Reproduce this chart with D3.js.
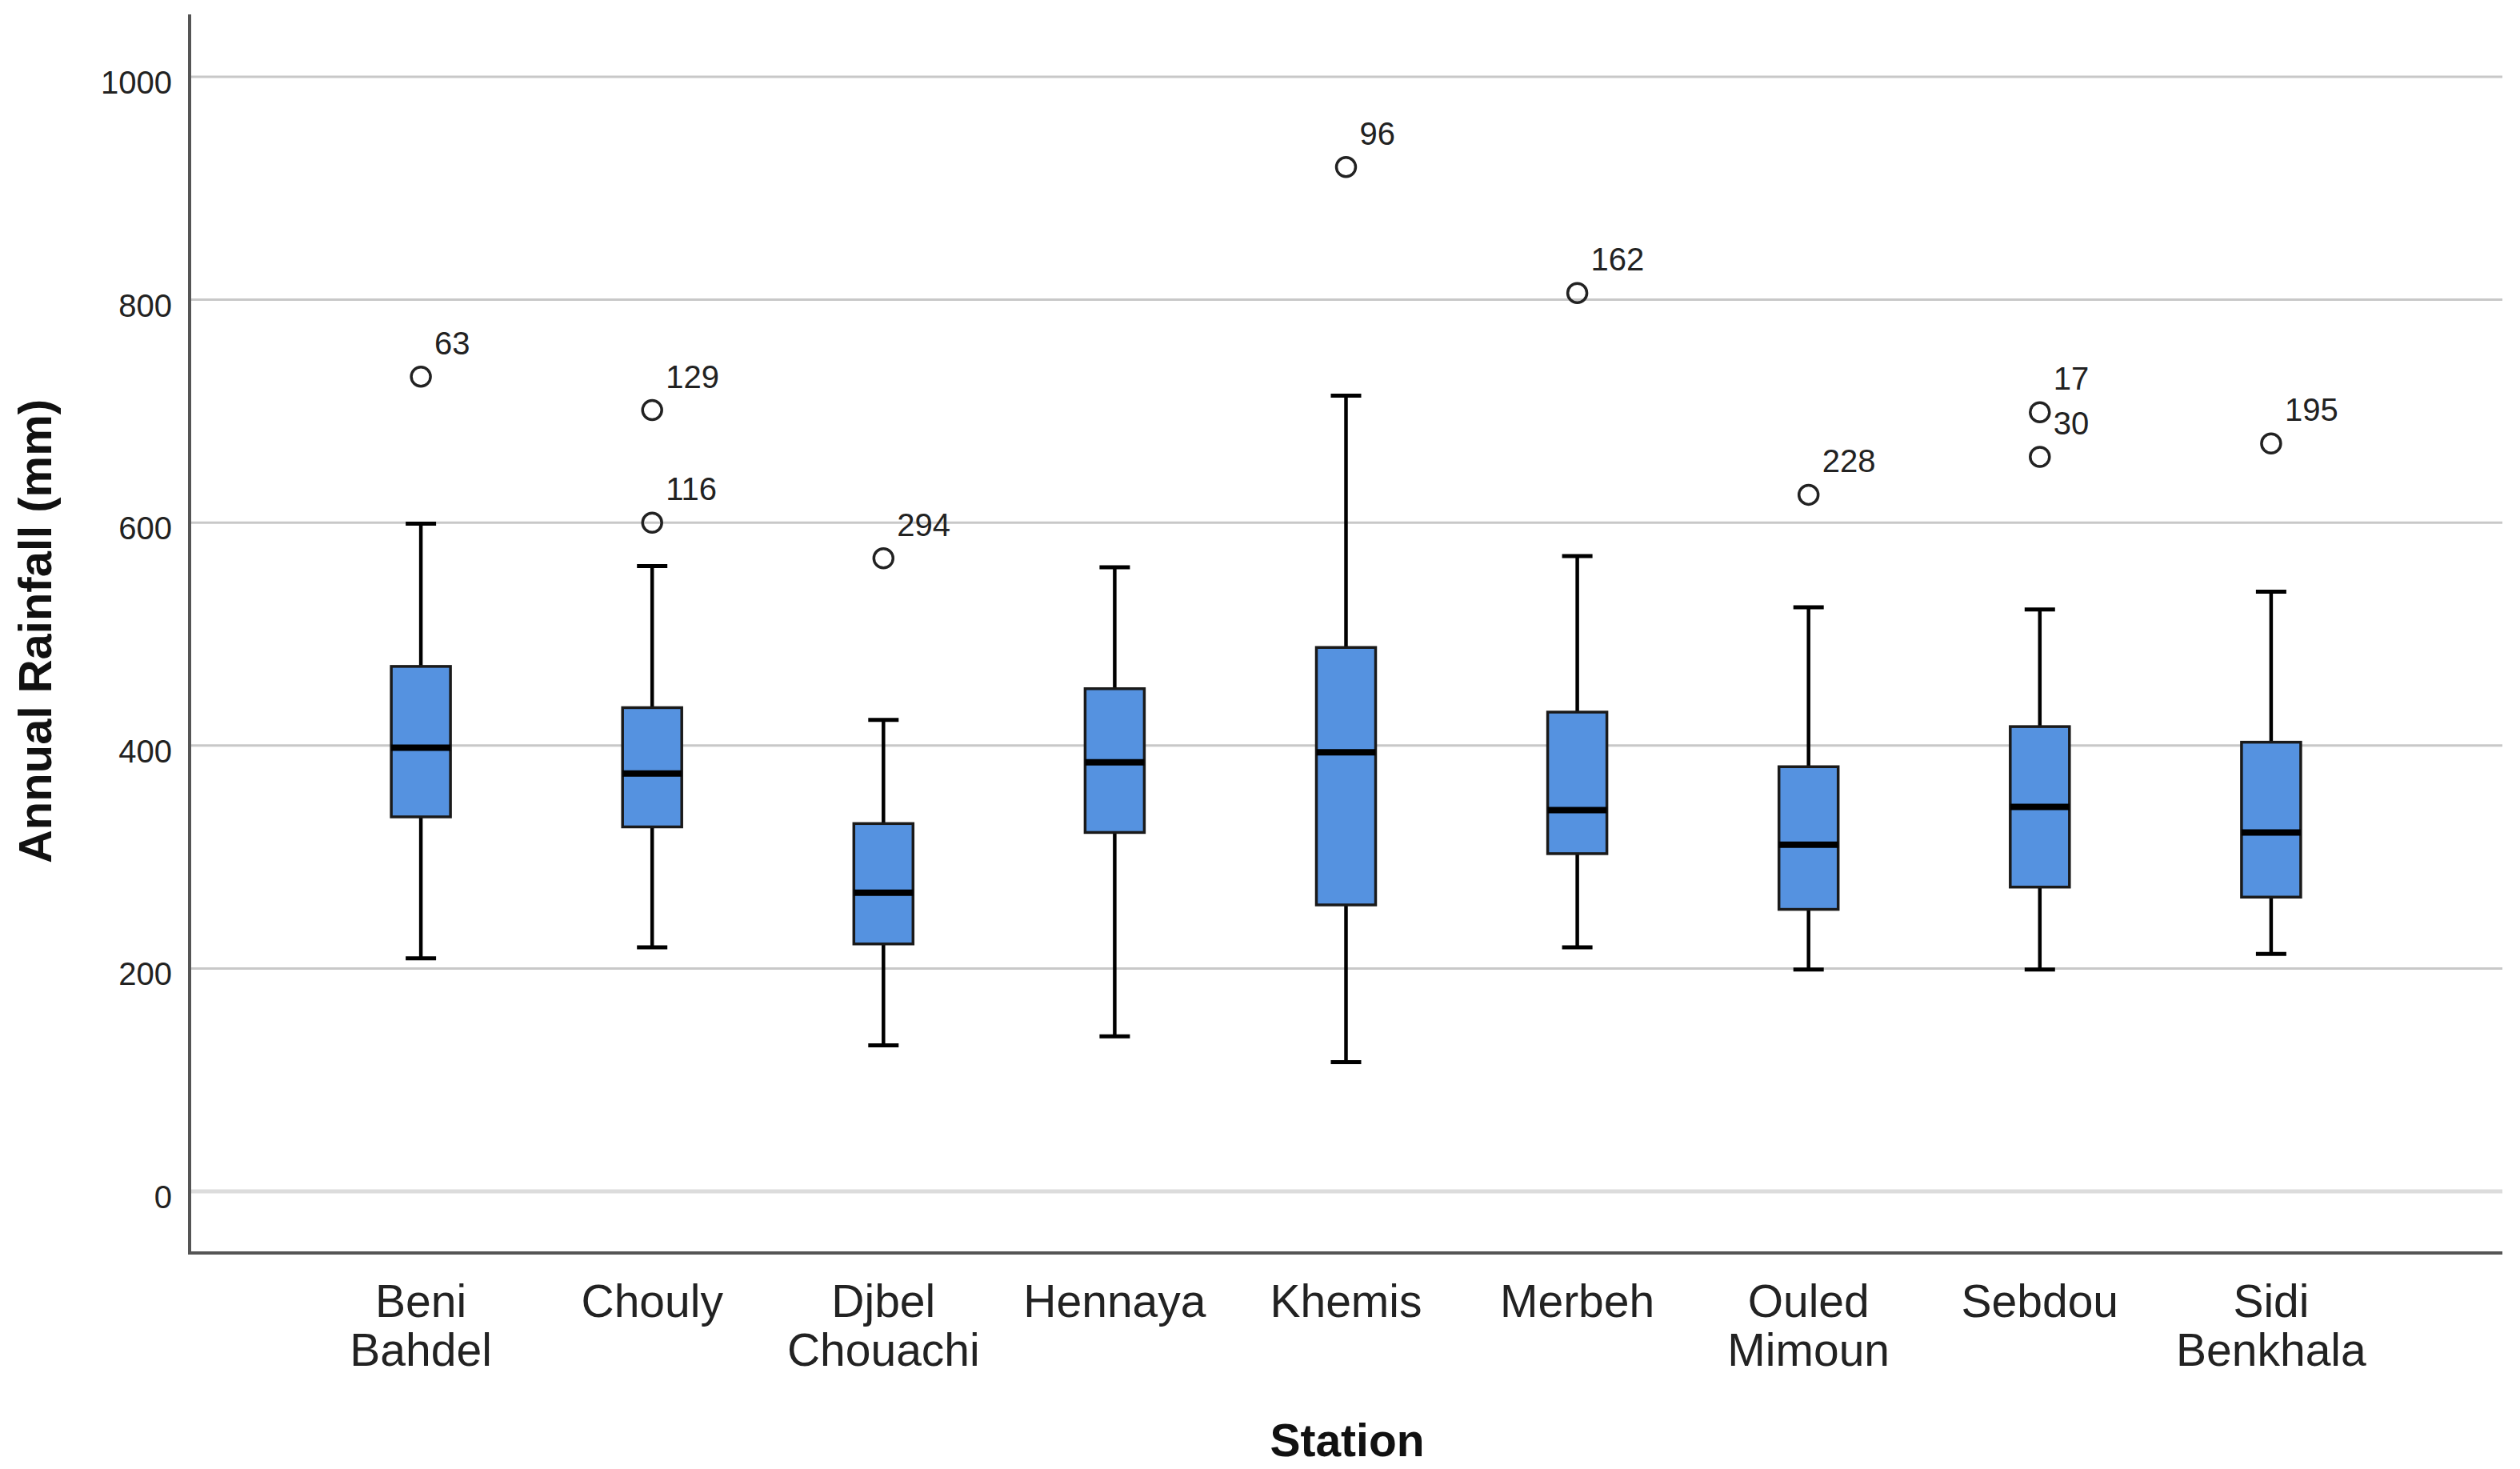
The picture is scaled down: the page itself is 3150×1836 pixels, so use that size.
<!DOCTYPE html>
<html>
<head>
<meta charset="utf-8">
<script src="https://cdn.jsdelivr.net/npm/d3@7"></script>
<style>
  html, body { margin: 0; padding: 0; background: #fff; }
  text { font-family: Arial, "Liberation Sans", sans-serif; }
</style>
</head>
<body>
<svg id="chart" width="3150" height="1836"></svg>
<script>
// ---- Data ----
const stations = [
  ["Beni", "Bahdel"], ["Chouly"], ["Djbel", "Chouachi"], ["Hennaya"], ["Khemis"],
  ["Merbeh"], ["Ouled", "Mimoun"], ["Sebdou"], ["Sidi", "Benkhala"]
];
const lowerWhisker = [209, 219, 131, 139, 116, 219, 199, 199, 213];
const q1           = [336, 327, 222, 322, 257, 303, 253, 273, 264];
const medians      = [398, 375, 268, 385, 394, 342, 311, 345, 322];
const q3           = [471, 434, 330, 451, 488, 430, 381, 417, 403];
const upperWhisker = [599, 561, 423, 560, 714, 570, 524, 522, 538];
// outliers: station index, value, case label
const outlierStation = [0, 1, 1, 2, 4, 5, 6, 7, 7, 8];
const outlierValue   = [731, 701, 600, 568, 919, 806, 625, 699, 659, 671];
const outlierLabel   = ["63", "129", "116", "294", "96", "162", "228", "17", "30", "195"];
const yTicks = [0, 200, 400, 600, 800, 1000];

// ---- Layout ----
const svg = d3.select("#chart");
const plotLeft = 237, plotRight = 3128, plotTop = 18, plotBottom = 1566;

const names = stations.map(s => s.join(" "));
const x = d3.scalePoint().domain(names).range([plotLeft, plotRight]).padding(1);
const y = d3.scaleLinear().domain([0, 1000]).range([1489, 96]);

svg.append("rect").attr("width", 3150).attr("height", 1836).attr("fill", "#fff");

// gridlines
svg.append("g").selectAll("line").data(yTicks).join("line")
  .attr("x1", plotLeft).attr("x2", plotRight)
  .attr("y1", d => y(d)).attr("y2", d => y(d))
  .attr("stroke", d => d === 0 ? "#dcdcdc" : "#c8c8c8")
  .attr("stroke-width", d => d === 0 ? 5 : 3);

// y tick labels
svg.append("g").selectAll("text").data(yTicks).join("text")
  .attr("x", 215).attr("y", d => y(d) + 21)
  .attr("text-anchor", "end")
  .attr("font-size", 40)
  .attr("fill", "#222")
  .text(d => d);

// axes lines
svg.append("line").attr("x1", plotLeft).attr("x2", plotLeft).attr("y1", plotTop).attr("y2", plotBottom)
  .attr("stroke", "#555").attr("stroke-width", 4);
svg.append("line").attr("x1", plotLeft - 2).attr("x2", plotRight).attr("y1", plotBottom).attr("y2", plotBottom)
  .attr("stroke", "#555").attr("stroke-width", 4);

// boxes
const boxW = 74, capW = 38;
const g = svg.append("g");
names.forEach((n, i) => {
  const cx = x(n);
  g.append("line").attr("x1", cx).attr("x2", cx)
    .attr("y1", y(upperWhisker[i])).attr("y2", y(q3[i]))
    .attr("stroke", "#000").attr("stroke-width", 4.5);
  g.append("line").attr("x1", cx).attr("x2", cx)
    .attr("y1", y(q1[i])).attr("y2", y(lowerWhisker[i]))
    .attr("stroke", "#000").attr("stroke-width", 4.5);
  [upperWhisker[i], lowerWhisker[i]].forEach(v => {
    g.append("line").attr("x1", cx - capW / 2).attr("x2", cx + capW / 2)
      .attr("y1", y(v)).attr("y2", y(v))
      .attr("stroke", "#000").attr("stroke-width", 5);
  });
  g.append("rect")
    .attr("x", cx - boxW / 2).attr("width", boxW)
    .attr("y", y(q3[i])).attr("height", y(q1[i]) - y(q3[i]))
    .attr("fill", "#5592e0").attr("stroke", "#1a1a1a").attr("stroke-width", 3.5);
  g.append("line").attr("x1", cx - boxW / 2).attr("x2", cx + boxW / 2)
    .attr("y1", y(medians[i])).attr("y2", y(medians[i]))
    .attr("stroke", "#000").attr("stroke-width", 8);
});

// outliers
outlierValue.forEach((v, k) => {
  const cx = x(names[outlierStation[k]]);
  const cy = y(v);
  g.append("circle").attr("cx", cx).attr("cy", cy).attr("r", 12)
    .attr("fill", "none").attr("stroke", "#222").attr("stroke-width", 3.5);
  g.append("text").attr("x", cx + 17).attr("y", cy - 28)
    .attr("font-size", 40).attr("fill", "#222")
    .text(outlierLabel[k]);
});

// category labels
const cat = svg.append("g");
stations.forEach((parts, i) => {
  const t = cat.append("text")
    .attr("text-anchor", "middle")
    .attr("font-size", 57)
    .attr("fill", "#222");
  parts.forEach((p, j) => {
    t.append("tspan").attr("x", x(names[i])).attr("y", 1646 + j * 61).text(p);
  });
});

// axis titles
svg.append("text")
  .attr("x", 1684).attr("y", 1820)
  .attr("text-anchor", "middle")
  .attr("font-size", 57).attr("font-weight", "bold").attr("fill", "#111")
  .text("Station");

svg.append("text")
  .attr("transform", "translate(64,789) rotate(-90)")
  .attr("text-anchor", "middle")
  .attr("font-size", 58).attr("font-weight", "bold").attr("fill", "#111")
  .text("Annual Rainfall (mm)");
</script>
</body>
</html>
